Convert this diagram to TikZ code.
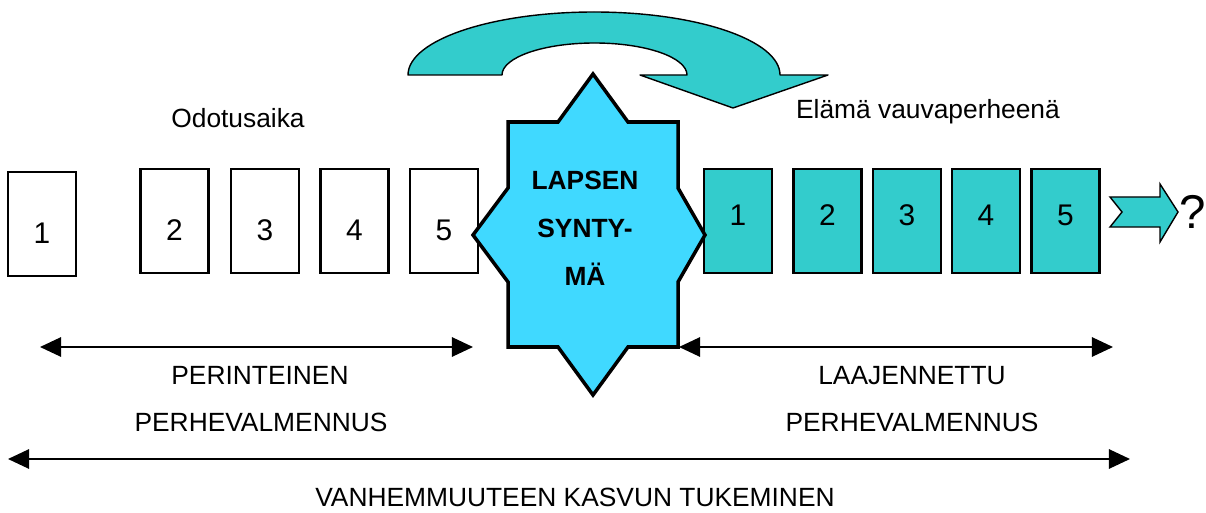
\documentclass[tikz,border=0pt]{standalone}
\usepackage{fontspec}
\setmainfont{Liberation Sans}
\usepackage{xcolor}
\usetikzlibrary{arrows.meta,positioning}
\definecolor{tealfill}{HTML}{33CCCC}
\definecolor{starfill}{HTML}{40D9FF}

\begin{document}
\begin{tikzpicture}[x=0.02cm, y=-0.02cm,
      wbox/.style={draw, line width=1.5pt, fill=white, minimum width=1.36cm,
        minimum height=2.08cm, inner sep=0pt, font=\fontsize{17}{20}\selectfont,
        text height=22pt, text depth=0pt},
      tbox/.style={wbox, fill=tealfill, text height=12.2pt, text depth=6.8pt},
      lbl/.style={font=\fontsize{15}{18}\selectfont, inner sep=0pt},
      span/.style={line width=1.1pt,
        {Triangle[length=12pt,width=11pt]}-{Triangle[length=12pt,width=11pt]}}]
    \useasboundingbox (0,0) rectangle (1206,513);
    \draw[fill=tealfill, line width=0.8pt, line join=round] (408,75)
      arc[start angle=180, end angle=360, x radius=186, y radius=63]
      -- (828,75) -- (733,108) -- (640,75) -- (687,75)
      arc[start angle=0, end angle=-180, x radius=92.5, y radius=32] -- cycle;
    \node[lbl] (wait) at (238,118) {Odotusaika};
    \node[lbl] (life) at (928,112) {Elämä vauvaperheenä};
    \node[wbox] (w1) at (42,224)    {1};
    \node[wbox] (w2) at (174.5,221) {2};
    \node[wbox] (w3) at (265,221)   {3};
    \node[wbox] (w4) at (354.5,221) {4};
    \node[wbox] (w5) at (444,221)   {5};
    \node[tbox] (t1) at (738,221)   {1};
    \node[tbox] (t2) at (827.5,221) {2};
    \node[tbox] (t3) at (907,221)   {3};
    \node[tbox] (t4) at (986,221)   {4};
    \node[tbox] (t5) at (1065.5,221) {5};
    \draw[fill=starfill, line width=2pt] (593,74) -- (628,122) -- (678,122)
      -- (678,188) -- (705,235) -- (678,282) -- (678,347) -- (628,347)
      -- (593,395) -- (558,347) -- (508,347) -- (508,282) -- (473,235)
      -- (508,188) -- (508,122) -- (558,122) -- cycle;
    \node[font=\bfseries\fontsize{15}{27.3}\selectfont, align=center] (birth)
      at (585,228) {LAPSEN\\SYNTY-\\MÄ};
    \draw[fill=tealfill, line width=0.8pt] (1110,197) -- (1160,197) -- (1160,184)
      -- (1178,212) -- (1160,242) -- (1160,227) -- (1110,227) -- (1122,212) -- cycle;
    \node[font=\fontsize{27}{30}\selectfont, inner sep=0pt] (q) at (1193,212) {?};
    \coordinate (pl) at (40,347);
    \coordinate (pr) at (473,347);
    \coordinate (ll) at (679,347);
    \coordinate (lr) at (1113,347);
    \coordinate (vl) at (8,459);
    \coordinate (vr) at (1130,459);
    \draw[span] (pl) -- (pr);
    \draw[span] (ll) -- (lr);
    \draw[span] (vl) -- (vr);
    \node[lbl] (trad1) at (260,375) {PERINTEINEN};
    \node[lbl] (trad2) at (261,422) {PERHEVALMENNUS};
    \node[lbl] (ext1) at (912,376) {LAAJENNETTU};
    \node[lbl] (ext2) at (912,422) {PERHEVALMENNUS};
    \node[lbl] (all) at (575,497) {VANHEMMUUTEEN KASVUN TUKEMINEN};
  \end{tikzpicture}
\end{document}
